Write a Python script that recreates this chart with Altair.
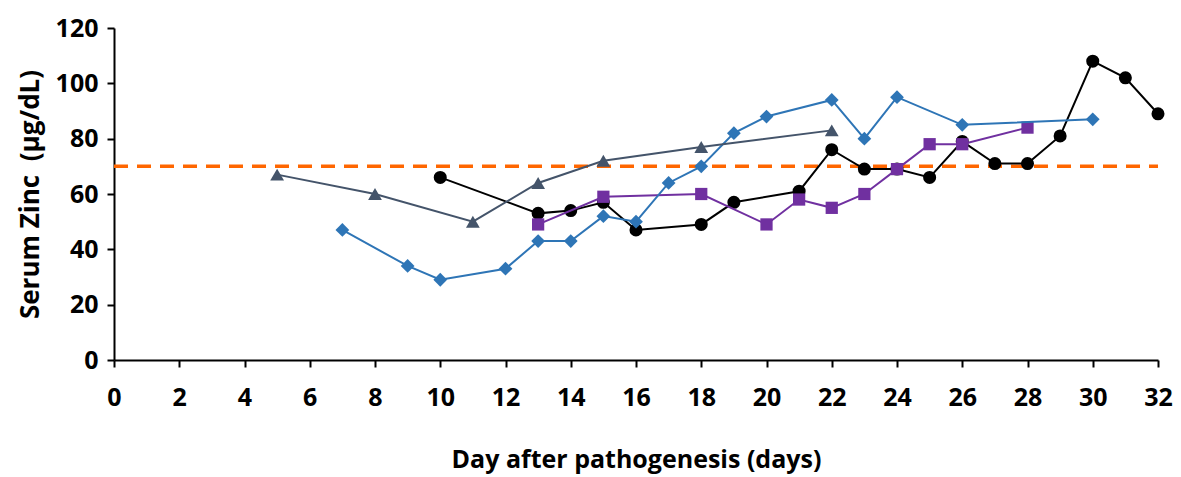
import altair as alt
import pandas as pd

# Series data (day, serum zinc µg/dL)
black_days = [10, 13, 14, 15, 16, 18, 19, 21, 22, 23, 24, 25, 26, 27, 28, 29, 30, 31, 32]
black_vals = [66, 53, 54, 57, 47, 49, 57, 61, 76, 69, 69, 66, 79, 71, 71, 81, 108, 102, 89]

purple_days = [13, 15, 18, 20, 21, 22, 23, 24, 25, 26, 28]
purple_vals = [49, 59, 60, 49, 58, 55, 60, 69, 78, 78, 84]

blue_days = [7, 9, 10, 12, 13, 14, 15, 16, 17, 18, 19, 20, 22, 23, 24, 26, 30]
blue_vals = [47, 34, 29, 33, 43, 43, 52, 50, 64, 70, 82, 88, 94, 80, 95, 85, 87]

grey_days = [5, 8, 11, 13, 15, 18, 22]
grey_vals = [67, 60, 50, 64, 72, 77, 83]

ref_days = [0, 32]
ref_vals = [70, 70]

x_ticks = list(range(0, 33, 2))
y_ticks = list(range(0, 121, 20))

FONT = "Open Sans"

xscale = alt.Scale(domain=[0, 32], nice=False, zero=False)
yscale = alt.Scale(domain=[0, 120], nice=False)

x_axis = alt.Axis(values=x_ticks, title="Day after pathogenesis (days)", grid=False,
                  labelFont=FONT, labelFontSize=25, labelFontWeight="bold", labelColor="black",
                  titleFont=FONT, titleFontSize=25, titleFontWeight="bold", titleColor="black",
                  domainColor="black", domainWidth=2, tickColor="black", tickWidth=2, tickSize=7,
                  labelPadding=18, titlePadding=37, labelFlush=False)
y_axis = alt.Axis(values=y_ticks, title="Serum Zinc\u00a0\u00a0(µg/dL)", grid=False,
                  labelFont=FONT, labelFontSize=25, labelFontWeight="bold", labelColor="black",
                  titleFont=FONT, titleFontSize=26, titleFontWeight="bold", titleColor="black",
                  domainColor="black", domainWidth=2, tickColor="black", tickWidth=2, tickSize=7,
                  labelPadding=9, titlePadding=12, labelFlush=False)

ref = alt.Chart(pd.DataFrame({"day": ref_days, "zinc": ref_vals})).mark_line(
    color="#FF6600", strokeWidth=3.5, strokeDash=[14, 9]
).encode(x=alt.X("day:Q", scale=xscale, axis=x_axis), y=alt.Y("zinc:Q", scale=yscale, axis=y_axis))

series = [
    (black_days, black_vals, "black", "circle", 170),
    (purple_days, purple_vals, "#7030A0", "square", 150),
    (blue_days, blue_vals, "#2E75B6", "diamond", 190),
    (grey_days, grey_vals, "#44546A", "triangle-up", 190),
]

layers = [ref]
for d, v, col, shp, sz in series:
    df = pd.DataFrame({"day": d, "zinc": v})
    base = alt.Chart(df).encode(x=alt.X("day:Q", scale=xscale), y=alt.Y("zinc:Q", scale=yscale))
    layers.append(base.mark_line(color=col, strokeWidth=2))
    layers.append(base.mark_point(color=col, shape=shp, size=sz, filled=True, opacity=1))

chart = alt.layer(*layers).properties(
    width=1044, height=332,
    autosize=alt.AutoSizeParams(type="none"),
    padding={"left": 106, "top": 20, "right": 15, "bottom": 117},
).configure_view(stroke=None)

chart.save("out.html", embed_options={"renderer": "svg", "actions": False})
